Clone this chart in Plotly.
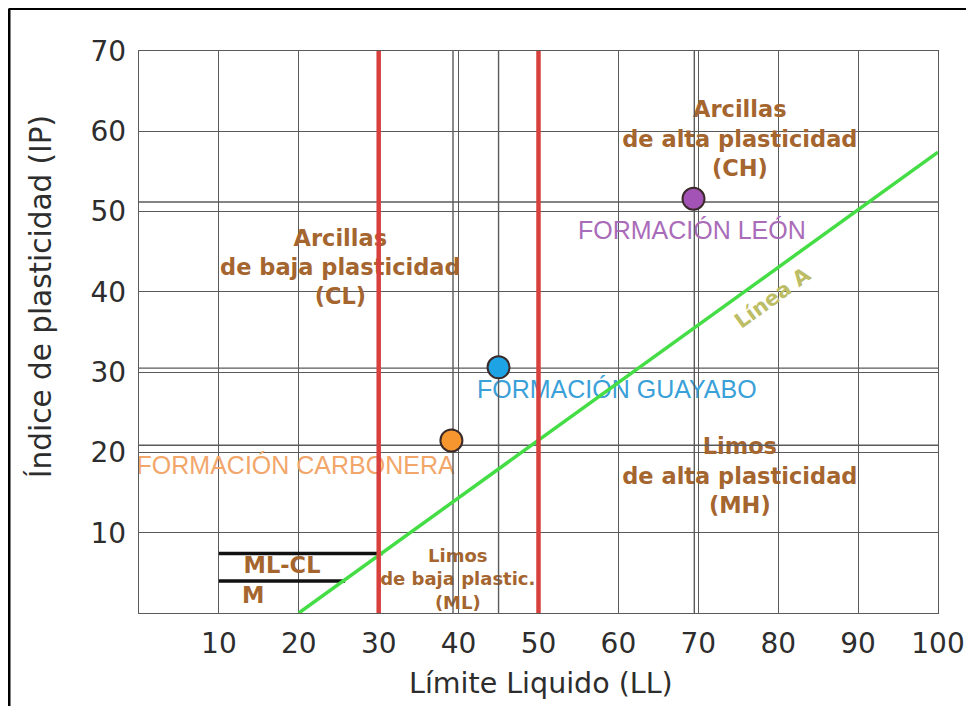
import plotly.graph_objects as go

# ---------------- data ----------------
x_ticks = [10, 20, 30, 40, 50, 60, 70, 80, 90, 100]
y_ticks = [10, 20, 30, 40, 50, 60, 70]

formations = ["FORMACIÓN CARBONERA", "FORMACIÓN GUAYABO", "FORMACIÓN LEÓN"]
ll_values = [39.1, 45.0, 69.4]
ip_values = [21.5, 30.6, 51.6]
marker_colors = ["#f5962e", "#1ea3e4", "#a353b5"]
label_colors = ["#f2a66a", "#3aa0d8", "#a96cb9"]
label_x = [19.6, 59.8, 69.2]
label_y = [18.1, 27.5, 47.4]

# guide lines through the samples
guide_x = [39.3, 45.0, 69.5]
guide_y = [20.9, 30.5, 51.2]

# Casagrande chart lines
linea_a_x = [20, 100]
linea_a_y = [0, 57.4]
ll_limits = [30, 50]
ll_limit_span = [-0.7, 70.3]
mlcl_upper_x = [10, 30.5]
mlcl_upper_y = [7.4, 7.4]
mlcl_lower_x = [10, 25.8]
mlcl_lower_y = [4.0, 4.0]

zone_text = ["Arcillas<br>de baja plasticidad<br>(CL)",
             "Arcillas<br>de alta plasticidad<br>(CH)",
             "Limos<br>de alta plasticidad<br>(MH)",
             "ML-CL", "M"]
zone_x = [25.2, 75.2, 75.2, 17.9, 14.3]
zone_y = [42.8, 58.8, 16.8, 5.7, 2.0]

ml_text = "Limos<br>de baja plastic.<br>(ML)"
ml_x = [39.9]
ml_y = [4.0]

linea_label = "Línea A"
linea_label_pos = (79.3, 39.2)

x_title = "Límite Liquido (LL)"
y_title = "Índice de plasticidad (IP)"

BROWN = "#a5652f"
GRID = "#5a5a5a"
TICK = "#2d2d2d"

fig = go.Figure()

# zone labels (beneath the lines)
fig.add_trace(go.Scatter(
    x=zone_x, y=zone_y, mode="text", text=zone_text,
    textfont=dict(family="DejaVu Sans", size=22.5, color=BROWN, weight="bold"),
    textposition="middle center", showlegend=False, hoverinfo="skip"))
fig.add_trace(go.Scatter(
    x=ml_x, y=ml_y, mode="text", text=[ml_text],
    textfont=dict(family="DejaVu Sans", size=18, color=BROWN, weight="bold"),
    textposition="middle center", showlegend=False, hoverinfo="skip"))

# formation labels
for name, lx, ly, col in zip(formations, label_x, label_y, label_colors):
    fig.add_trace(go.Scatter(
        x=[lx], y=[ly], mode="text", text=[name],
        textfont=dict(family="Liberation Sans", size=25, color=col),
        textposition="middle center", showlegend=False, hoverinfo="skip"))

# guide lines
for gx in guide_x:
    fig.add_trace(go.Scatter(x=[gx, gx], y=[0, 70], mode="lines",
                             line=dict(color=GRID, width=1.4),
                             showlegend=False, hoverinfo="skip"))
for gy in guide_y:
    fig.add_trace(go.Scatter(x=[0, 100], y=[gy, gy], mode="lines",
                             line=dict(color=GRID, width=1.4),
                             showlegend=False, hoverinfo="skip"))

# ML-CL boundaries
fig.add_trace(go.Scatter(x=mlcl_upper_x, y=mlcl_upper_y, mode="lines",
                         line=dict(color="#111111", width=3.5),
                         showlegend=False, hoverinfo="skip"))
fig.add_trace(go.Scatter(x=mlcl_lower_x, y=mlcl_lower_y, mode="lines",
                         line=dict(color="#111111", width=3.5),
                         showlegend=False, hoverinfo="skip"))

# liquid-limit boundaries (red), allowed to overhang slightly
for xl in ll_limits:
    fig.add_shape(type="line", xref="x", yref="y",
                  x0=xl, x1=xl, y0=ll_limit_span[0], y1=ll_limit_span[1],
                  line=dict(color="#d8403d", width=4.5), layer="above")

# Linea A
fig.add_trace(go.Scatter(x=linea_a_x, y=linea_a_y, mode="lines",
                         line=dict(color="#45dd45", width=3.5),
                         showlegend=False, hoverinfo="skip"))

# samples
fig.add_trace(go.Scatter(
    x=ll_values, y=ip_values, mode="markers",
    marker=dict(size=22, color=marker_colors,
                line=dict(color="#3a2a2a", width=2)),
    showlegend=False, hoverinfo="skip", cliponaxis=False))

annotations = [
    dict(x=linea_label_pos[0], y=linea_label_pos[1], xref="x", yref="y",
         text=linea_label, showarrow=False, textangle=-36,
         font=dict(family="DejaVu Sans", size=21, color="#bdbd66", weight="bold")),
    dict(x=0.503, y=-0.1246, xref="paper", yref="paper", text=x_title,
         showarrow=False, xanchor="center", yanchor="middle",
         font=dict(family="DejaVu Sans", size=28.5, color=TICK)),
    dict(x=-0.1239, y=0.562, xref="paper", yref="paper", text=y_title,
         showarrow=False, textangle=-90, xanchor="center", yanchor="middle",
         font=dict(family="DejaVu Sans", size=29.5, color=TICK)),
]

# outer frame (left and top edges only, as in the picture)
fig.add_shape(type="line", xref="paper", yref="paper",
              x0=-0.1627, x1=-0.1627, y0=-0.2, y1=1.0755,
              line=dict(color="black", width=3))
fig.add_shape(type="line", xref="paper", yref="paper",
              x0=-0.1627, x1=1.1, y0=1.0755, y1=1.0755,
              line=dict(color="black", width=3))

# page body has an 8px margin: figure sized/placed so the plot area sits
# at the same page position as in the reference
fig.update_layout(
    width=966, height=698,
    margin=dict(l=131, r=36, t=43, b=93),
    paper_bgcolor="white", plot_bgcolor="white",
    annotations=annotations,
    showlegend=False,
)
fig.update_xaxes(range=[0, 100], tickvals=x_ticks, ticktext=[str(v) for v in x_ticks],
                 showgrid=True, gridcolor=GRID, gridwidth=1.4,
                 showline=True, linecolor=GRID, linewidth=1.4, mirror=True,
                 zeroline=False, ticks="", ticklabelstandoff=5,
                 tickfont=dict(family="DejaVu Sans", size=28, color=TICK),
                 automargin=False, fixedrange=True)
fig.update_yaxes(range=[0, 70], tickvals=y_ticks, ticktext=[str(v) for v in y_ticks],
                 showgrid=True, gridcolor=GRID, gridwidth=1.4,
                 showline=True, linecolor=GRID, linewidth=1.4, mirror=True,
                 zeroline=False, ticks="", ticklabelstandoff=6,
                 tickfont=dict(family="DejaVu Sans", size=28, color=TICK),
                 automargin=False, fixedrange=True)

fig.write_html("out.html")
